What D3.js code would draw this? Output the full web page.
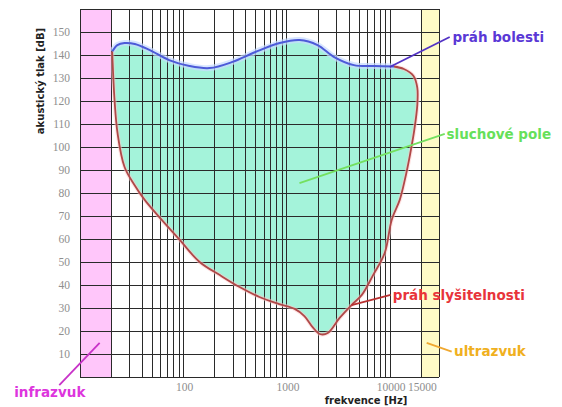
<!DOCTYPE html>
<html><head><meta charset="utf-8">
<script src="https://cdn.jsdelivr.net/npm/d3@7"></script>
<style>body{margin:0;background:#fff}svg{display:block}</style>
</head><body>
<svg id="c" width="562" height="407"></svg>
<script>
// ---- data ----
const yTicks = [10,20,30,40,50,60,70,80,90,100,110,120,130,140,150];
const xTickValues = [100, 1000, 10000, 20000];
const xTickLabels = ["100", "1000", "10000", "15000"];
// pain threshold (práh bolesti): [frequency Hz, dB]
const painThreshold = [[20.5,141.5],[23,144.3],[27,145.2],[34,144.8],[47,142.2],[73,137.8],[115,135.2],[180,134.3],[300,137],[500,141.3],[860,145.2],[1340,146.5],[2000,144.3],[2900,139.1],[4500,135.6],[7100,135.2],[11000,135.0]];
// hearing threshold (práh slyšitelnosti): [frequency Hz, dB]
const hearingThreshold = [[20.5,141.5],[21.6,120.4],[23.1,106],[27,91.3],[33.7,83.5],[42.3,77],[61.9,68.3],[92.4,59.6],[144,50],[226,44.3],[351,39.1],[546,34.8],[850,31.7],[1200,29.6],[1490,26.5],[1790,21.7],[2100,18.7],[2510,19.1],[3270,25.7],[4270,31.3],[5370,35.7],[6900,44.3],[8940,53.9],[10450,68.3],[12500,77],[14000,85.7],[15700,96.5],[17300,107.4],[18500,118.3],[18500,125.7],[17000,130.9],[13700,133.9],[11000,135.0]];
const infraRange = [10, 20];
const ultraRange = [20000, 30000];
// annotations: label, text start [f, dB], leader from [f,dB] to [f,dB]
const annotations = [
  {text:"práh bolesti", at:[40500,147.8], from:[38100,147.8], to:[10000,134.8], color:"#5a38d6", line:"#5232c4", anchor:"start"},
  {text:"sluchové pole", at:[35500,105.7], from:[34100,105.7], to:[1336,84.3], color:"#66e05a", line:"#74e060", anchor:"start"},
  {text:"práh slyšitelnosti", at:[10700,35.7], from:[10200,35.7], to:[4270,31.3], color:"#e8343a", line:"#b83030", anchor:"start"},
  {text:"ultrazvuk", at:[42000,11.0], from:[39800,11.0], to:[22800,14.8], color:"#f0b020", line:"#f0a830", anchor:"start"},
  {text:"infrazvuk", at:[5.1,-6.5], from:[6.3,-3.5], to:[15.5,14.8], color:"#dd35dd", line:"#c832c8", anchor:"middle"}
];

// ---- drawing ----
const svg = d3.select("#c");
const x = d3.scaleLog().domain([10, 30000]).range([80, 439]);
const y = d3.scaleLinear().domain([0, 160]).range([377, 9]);
const P = d => [x(d[0]), y(d[1])];

// regions
svg.append("rect").attr("x", x(infraRange[0])).attr("y", y(160))
  .attr("width", x(infraRange[1]) - x(infraRange[0])).attr("height", y(0) - y(160)).attr("fill", "#ffc6fa");
svg.append("rect").attr("x", x(ultraRange[0])).attr("y", y(160))
  .attr("width", x(ultraRange[1]) - x(ultraRange[0])).attr("height", y(0) - y(160)).attr("fill", "#fffbc6");

// field fill
const closed = painThreshold.concat(hearingThreshold.slice().reverse().slice(1, -1));
svg.append("path").attr("d", d3.line().x(d=>x(d[0])).y(d=>y(d[1])).curve(d3.curveCatmullRomClosed)(closed))
  .attr("fill", "#a4f3da");

// grid
const g = svg.append("g").attr("stroke", "#2a2a2a").attr("stroke-width", 1).attr("fill", "none").attr("shape-rendering", "crispEdges");
const vLines = [];
for (let p = 10; p <= 10000; p *= 10) for (let k = 1; k <= 9; k++) { const v = k * p; if (v >= 10 && v <= 30000) vLines.push(v); }
vLines.push(30000);
g.selectAll(".v").data(vLines).join("line").attr("x1", d => Math.round(x(d)) + 0.5).attr("x2", d => Math.round(x(d)) + 0.5)
  .attr("y1", y(160)).attr("y2", y(0));
g.selectAll(".h").data(d3.range(0, 161, 10)).join("line").attr("y1", d => Math.round(y(d)) + 0.5).attr("y2", d => Math.round(y(d)) + 0.5)
  .attr("x1", x(10)).attr("x2", x(30000));

// curves
const lineGen = d3.line().x(d=>x(d[0])).y(d=>y(d[1])).curve(d3.curveCatmullRom);
svg.append("path").attr("d", lineGen(painThreshold)).attr("fill","none").attr("stroke","#c8dcff").attr("stroke-width",6).attr("stroke-opacity",0.7);
svg.append("path").attr("d", lineGen(hearingThreshold)).attr("fill","none").attr("stroke","#ffc8c8").attr("stroke-width",4).attr("stroke-opacity",0.5);
svg.append("path").attr("d", lineGen(painThreshold)).attr("fill","none").attr("stroke","#4d5ad8").attr("stroke-width",2);
svg.append("path").attr("d", lineGen(hearingThreshold)).attr("fill","none").attr("stroke","#b04848").attr("stroke-width",1.8);

// axes tick labels
svg.append("g").selectAll("text").data(yTicks).join("text")
  .attr("x", 70).attr("y", d => y(d)).attr("dy", "0.35em").attr("text-anchor", "end")
  .attr("font-family", "Liberation Serif, serif").attr("font-size", 11.5).attr("fill", "#8e8e8e").text(d => d);
svg.append("g").selectAll("text").data(xTickValues).join("text")
  .attr("x", d => x(d) + 1.5).attr("y", 391).attr("text-anchor", "middle")
  .attr("font-family", "Liberation Serif, serif").attr("font-size", 11.5).attr("fill", "#8e8e8e").text((d,i) => xTickLabels[i]);

// axis titles
svg.append("text").attr("x", 366).attr("y", 404).attr("text-anchor","middle")
  .attr("font-family","DejaVu Sans, sans-serif").attr("font-weight","bold").attr("font-size",10).attr("fill","#222").text("frekvence [Hz]");
svg.append("text").attr("transform","translate(44,81) rotate(-90)").attr("text-anchor","middle")
  .attr("font-family","DejaVu Sans, sans-serif").attr("font-weight","bold").attr("font-size",10).attr("fill","#222").text("akustický tlak [dB]");

// annotations
const an = svg.append("g");
annotations.forEach(a => {
  const f = P(a.from), t = P(a.to), s = P(a.at);
  an.append("line").attr("x1", f[0]).attr("y1", f[1]).attr("x2", t[0]).attr("y2", t[1])
    .attr("stroke", a.line).attr("stroke-width", 1.8);
  an.append("text").attr("x", s[0]).attr("y", s[1]).attr("dy", "0.35em").attr("text-anchor", a.anchor)
    .attr("font-family","DejaVu Sans, sans-serif").attr("font-weight","bold").attr("font-size",13.5)
    .attr("fill", a.color).text(a.text);
});
</script>
</body></html>
